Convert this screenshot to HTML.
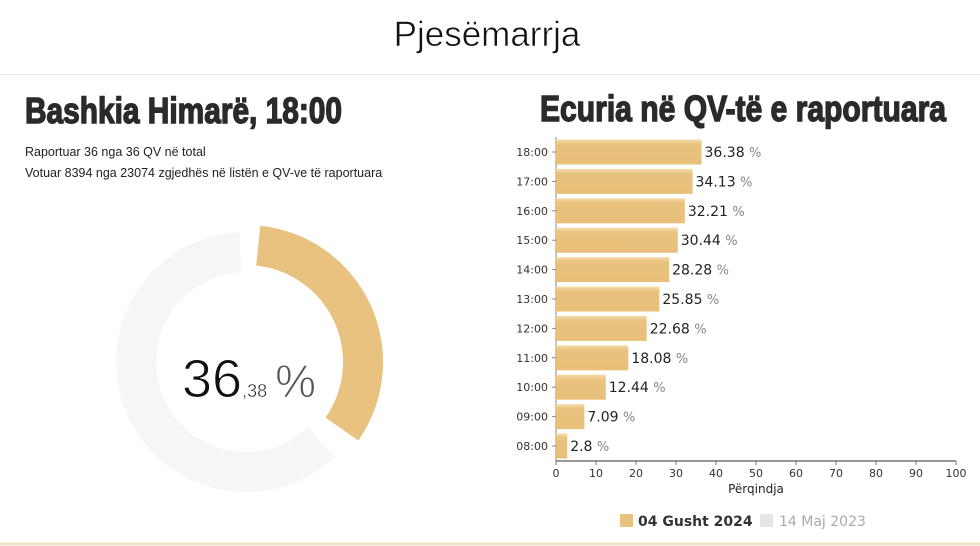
<!DOCTYPE html>
<html><head><meta charset="utf-8"><style>
html,body{margin:0;padding:0;background:#fff;}
svg{display:block;}
</style></head><body>
<svg id="chart" width="980" height="546" viewBox="0 0 980 546" xmlns="http://www.w3.org/2000/svg" font-family="Liberation Sans, sans-serif">
<defs>
<linearGradient id="barGrad" x1="0" y1="0" x2="0" y2="1">
<stop offset="0" stop-color="#f5dcaa"/><stop offset="0.2" stop-color="#e8c27e"/><stop offset="1" stop-color="#e8c07a"/>
</linearGradient>
</defs>
<text x="487" y="46" text-anchor="middle" font-size="35" fill="#111" stroke="#fff" stroke-width="0.6">Pjesëmarrja</text>
<line x1="0" y1="74.5" x2="980" y2="74.5" stroke="#e6e6e6" stroke-width="1"/>
<text x="25" y="123" font-size="36" font-weight="bold" font-family="Liberation Sans Narrow, Liberation Sans, sans-serif" fill="#2a2a2a" stroke="#2a2a2a" stroke-width="1.4" textLength="317" lengthAdjust="spacingAndGlyphs">Bashkia Himarë, 18:00</text>
<text x="25" y="156" font-size="12.5" fill="#222">Raportuar 36 nga 36 QV në total</text>
<text x="25" y="177" font-size="12.5" fill="#222">Votuar 8394 nga 23074 zgjedhës në listën e QV-ve të raportuara</text>
<g id="donut"></g>
<text x="182" y="397" font-size="54" fill="#111" stroke="#fff" stroke-width="1">36<tspan font-size="18" fill="#222" stroke-width="0.4">,38</tspan><tspan dx="8" font-size="46" fill="#555" stroke-width="1">%</tspan></text>
<text x="540" y="121" font-size="36" font-weight="bold" font-family="Liberation Sans Narrow, Liberation Sans, sans-serif" fill="#2a2a2a" stroke="#2a2a2a" stroke-width="1.4" textLength="406" lengthAdjust="spacingAndGlyphs">Ecuria në QV-të e raportuara</text>
<g id="bars"></g>
<g>
<rect x="620" y="514" width="13" height="13" fill="#e8c27e"/>
<text x="638" y="526" font-size="14" font-weight="bold" fill="#333" font-family="DejaVu Sans, sans-serif">04 Gusht 2024</text>
<rect x="760" y="514" width="13" height="13" fill="#e6e6e6"/>
<text x="779" y="526" font-size="14" fill="#aaa" font-family="DejaVu Sans, sans-serif">14 Maj 2023</text>
</g>
<line x1="0" y1="544" x2="980" y2="544" stroke="#efe3c6" stroke-width="3"/>
</svg>
<script>
const categories = ["18:00","17:00","16:00","15:00","14:00","13:00","12:00","11:00","10:00","09:00","08:00"];
const values2024 = [36.38,34.13,32.21,30.44,28.28,25.85,22.68,18.08,12.44,7.09,2.8];
const xTicks = [0,10,20,30,40,50,60,70,80,90,100];
const turnout = [36.38];

const NS = "http://www.w3.org/2000/svg";
function mk(tag, attrs, parent){const e=document.createElementNS(NS,tag);for(const k in attrs)e.setAttribute(k,attrs[k]);parent.appendChild(e);return e;}

// donut
const cx=246, cy=362;
function arcPath(r0,r1,a0,a1){
  const p=(r,a)=>[cx+r*Math.sin(a*Math.PI/180), cy-r*Math.cos(a*Math.PI/180)];
  const large=(a1-a0)>180?1:0;
  const [x1,y1]=p(r1,a0),[x2,y2]=p(r1,a1),[x3,y3]=p(r0,a1),[x4,y4]=p(r0,a0);
  return `M${x1},${y1}A${r1},${r1} 0 ${large} 1 ${x2},${y2}L${x3},${y3}A${r0},${r0} 0 ${large} 0 ${x4},${y4}Z`;
}
const dg=document.getElementById('donut');
const endA=turnout[0]/100*360;
const rest=mk('path',{d:arcPath(90,130,endA+6,357),fill:'#f6f6f6'},dg);


const fill=mk('path',{d:arcPath(97,137,6,endA-6),fill:'#e8c27e'},dg);



// bar chart
const x0=556, x1=956, yTop=152, step=29.4, bh=25, axisY=461;
const xs=v=>x0+(v-0)/(100-0)*(x1-x0);
const ys=i=>yTop+i*step;
const g=document.getElementById('bars');
mk('line',{x1:x0,y1:137,x2:x0,y2:axisY,stroke:'#888','stroke-width':1},g);
categories.forEach((c,i)=>{
  const y=ys(i);
  const t=mk('text',{x:x0-8,y:y+4,'text-anchor':'end','font-size':11,fill:'#333','font-family':'DejaVu Sans, sans-serif'},g);
  t.textContent=c;
  
  
  mk('line',{x1:x0-4,y1:y,x2:x0,y2:y,stroke:'#888'},g);
  const b=mk('rect',{x:x0,y:y-bh/2,width:xs(values2024[i])-x0,height:bh,fill:'url(#barGrad)'},g);
  
  
  const v=mk('text',{x:xs(values2024[i])+3,y:y+5,'font-size':14,fill:'#222','font-family':'DejaVu Sans, sans-serif'},g);
  v.innerHTML=values2024[i]+' <tspan fill="#888" font-size="13">%</tspan>';
  
  
});
mk('line',{x1:x0,y1:axisY,x2:x1,y2:axisY,stroke:'#777','stroke-width':1.5},g);
xTicks.forEach(tv=>{
  const x=xs(tv);
  mk('line',{x1:x,y1:axisY,x2:x,y2:axisY+4,stroke:'#777'},g);
  const t=mk('text',{x:x,y:axisY+16,'text-anchor':'middle','font-size':11,fill:'#333','font-family':'DejaVu Sans, sans-serif'},g);
  t.textContent=tv;
  
  
});
const xt=mk('text',{x:756,y:493,'text-anchor':'middle','font-size':12,fill:'#222','font-family':'DejaVu Sans, sans-serif'},g);
xt.textContent='Përqindja';


</script>
</body></html>
